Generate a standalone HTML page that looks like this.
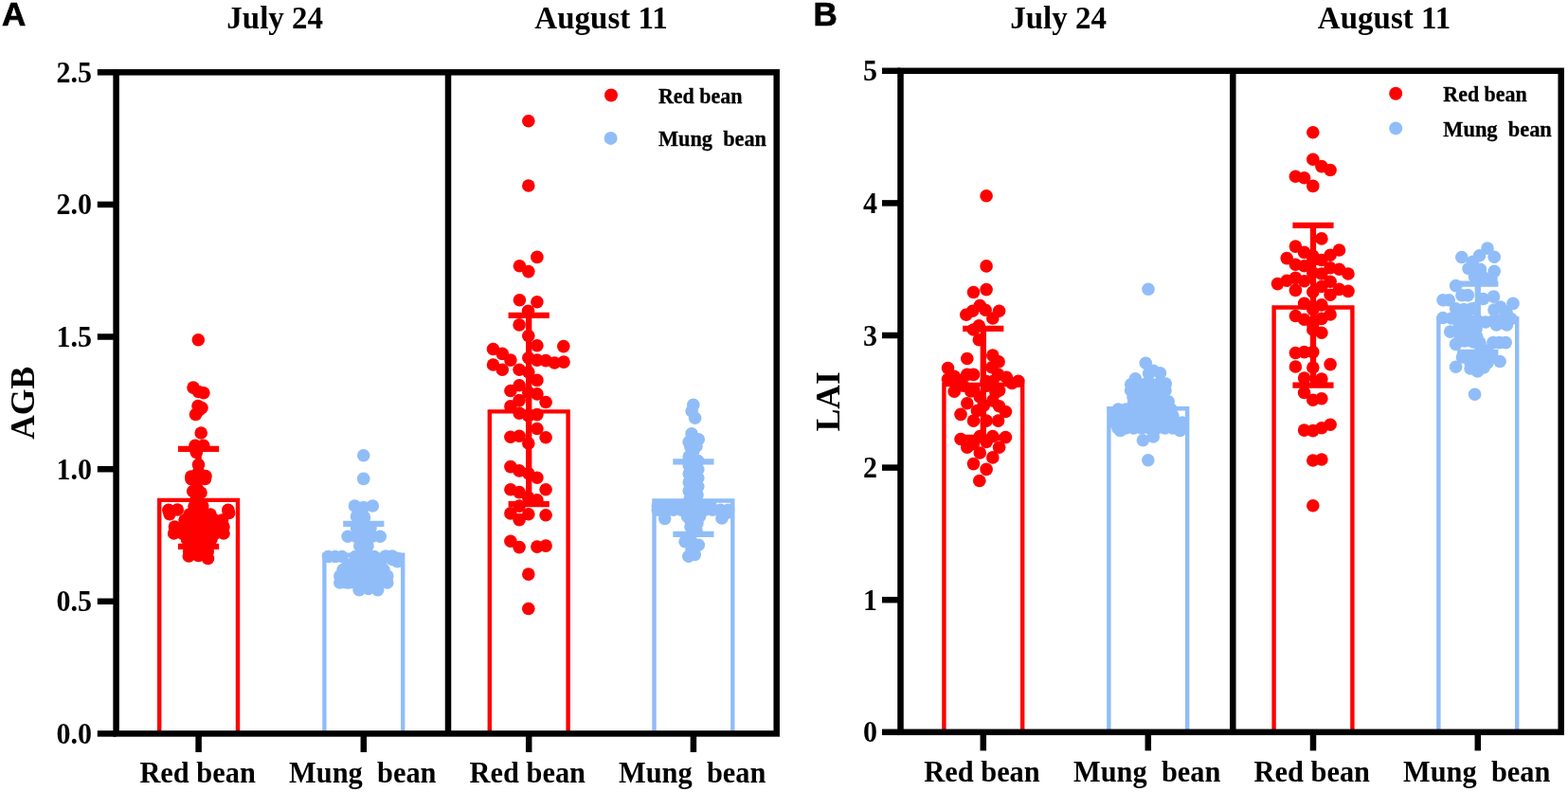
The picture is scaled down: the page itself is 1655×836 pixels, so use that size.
<!DOCTYPE html>
<html lang="en">
<head>
<meta charset="utf-8">
<title>AGB and LAI of red bean and mung bean</title>
<style>
html,body{margin:0;padding:0;background:#fff;}
body{width:1655px;height:836px;overflow:hidden;}
svg{display:block;}
text{font-family:"Liberation Serif","Times New Roman",Times,serif;font-weight:bold;fill:#000;white-space:pre;}
.t30{font-size:30px;}
.t33{font-size:33px;}
.t30x{font-size:30.4px;}
.t36{font-size:35.5px;}
.t24{font-size:24px;stroke:#000;stroke-width:0.3px;}
.pl{font-family:"Liberation Sans",Arial,Helvetica,sans-serif;font-weight:bold;font-size:35px;stroke:#000;stroke-width:0.7px;}
</style>
</head>
<body>
<svg width="1655" height="836" viewBox="0 0 1655 836">
<rect width="1655" height="836" fill="#fff"/>
<text x="2.0" y="27.0" class="pl">A</text>
<text x="858.6" y="26.8" class="pl">B</text>
<g id="panelA">
<path d="M168.2 774.4 V527.9 H251.0 V774.4" fill="none" stroke="#fe0000" stroke-width="4.4"/>
<path d="M209.6 473.8 V576.8 M188.0 473.8 h43.2 M188.0 576.8 h43.2" fill="none" stroke="#fe0000" stroke-width="6.3"/>
<path d="M342.4 774.4 V585.7 H425.2 V774.4" fill="none" stroke="#90bdf8" stroke-width="4.4"/>
<path d="M383.8 552.9 V618.0 M362.2 552.9 h43.2 M362.2 618.0 h43.2" fill="none" stroke="#90bdf8" stroke-width="6.3"/>
<path d="M516.8 774.4 V434.4 H599.6 V774.4" fill="none" stroke="#fe0000" stroke-width="4.4"/>
<path d="M558.2 332.8 V532.2 M536.6 332.8 h43.2 M536.6 532.2 h43.2" fill="none" stroke="#fe0000" stroke-width="6.3"/>
<path d="M690.5 774.4 V528.5 H773.3 V774.4" fill="none" stroke="#90bdf8" stroke-width="4.4"/>
<path d="M731.9 487.3 V563.8 M710.3 487.3 h43.2 M710.3 563.8 h43.2" fill="none" stroke="#90bdf8" stroke-width="6.3"/>
<g fill="#fe0000"><circle cx="209.3" cy="358.8" r="6.8"/><circle cx="204.0" cy="409.1" r="6.8"/><circle cx="209.5" cy="413.5" r="6.8"/><circle cx="214.9" cy="414.7" r="6.8"/><circle cx="209.0" cy="428.5" r="6.8"/><circle cx="213.0" cy="430.5" r="6.8"/><circle cx="210.0" cy="433.0" r="6.8"/><circle cx="206.5" cy="437.5" r="6.8"/><circle cx="212.2" cy="457.0" r="6.8"/><circle cx="206.0" cy="470.2" r="6.8"/><circle cx="214.7" cy="470.2" r="6.8"/><circle cx="207.3" cy="477.5" r="6.8"/><circle cx="209.5" cy="490.6" r="6.8"/><circle cx="209.5" cy="498.5" r="6.8"/><circle cx="217.0" cy="502.5" r="6.8"/><circle cx="201.8" cy="503.0" r="6.8"/><circle cx="209.5" cy="505.0" r="6.8"/><circle cx="216.4" cy="505.5" r="6.8"/><circle cx="202.0" cy="505.7" r="6.8"/><circle cx="208.0" cy="515.0" r="6.8"/><circle cx="203.7" cy="518.5" r="6.8"/><circle cx="212.0" cy="520.0" r="6.8"/><circle cx="207.0" cy="527.0" r="6.8"/><circle cx="213.8" cy="534.0" r="6.8"/><circle cx="205.0" cy="534.5" r="6.8"/><circle cx="187.3" cy="538.0" r="6.8"/><circle cx="177.9" cy="538.4" r="6.8"/><circle cx="240.8" cy="538.4" r="6.8"/><circle cx="241.6" cy="541.5" r="6.8"/><circle cx="179.0" cy="542.6" r="6.8"/><circle cx="200.0" cy="543.0" r="6.8"/><circle cx="207.3" cy="543.0" r="6.8"/><circle cx="214.7" cy="543.0" r="6.8"/><circle cx="222.0" cy="543.0" r="6.8"/><circle cx="195.0" cy="549.0" r="6.8"/><circle cx="202.9" cy="549.0" r="6.8"/><circle cx="210.8" cy="549.0" r="6.8"/><circle cx="218.7" cy="549.0" r="6.8"/><circle cx="226.6" cy="549.0" r="6.8"/><circle cx="234.5" cy="549.0" r="6.8"/><circle cx="184.4" cy="556.0" r="6.8"/><circle cx="193.0" cy="556.0" r="6.8"/><circle cx="201.6" cy="556.0" r="6.8"/><circle cx="210.2" cy="556.0" r="6.8"/><circle cx="218.8" cy="556.0" r="6.8"/><circle cx="227.4" cy="556.0" r="6.8"/><circle cx="236.0" cy="556.0" r="6.8"/><circle cx="183.6" cy="563.0" r="6.8"/><circle cx="192.3" cy="563.0" r="6.8"/><circle cx="201.1" cy="563.0" r="6.8"/><circle cx="209.8" cy="563.0" r="6.8"/><circle cx="218.5" cy="563.0" r="6.8"/><circle cx="227.3" cy="563.0" r="6.8"/><circle cx="236.0" cy="563.0" r="6.8"/><circle cx="197.4" cy="569.0" r="6.8"/><circle cx="205.9" cy="569.0" r="6.8"/><circle cx="214.5" cy="569.0" r="6.8"/><circle cx="223.0" cy="569.0" r="6.8"/><circle cx="199.5" cy="575.0" r="6.8"/><circle cx="206.3" cy="575.0" r="6.8"/><circle cx="213.2" cy="575.0" r="6.8"/><circle cx="220.0" cy="575.0" r="6.8"/><circle cx="199.6" cy="582.0" r="6.8"/><circle cx="206.2" cy="582.0" r="6.8"/><circle cx="212.7" cy="582.0" r="6.8"/><circle cx="219.3" cy="582.0" r="6.8"/><circle cx="209.5" cy="586.5" r="6.8"/><circle cx="199.3" cy="587.0" r="6.8"/><circle cx="219.5" cy="589.5" r="6.8"/></g>
<g fill="#90bdf8"><circle cx="383.7" cy="480.8" r="6.8"/><circle cx="383.7" cy="505.4" r="6.8"/><circle cx="374.4" cy="534.0" r="6.8"/><circle cx="393.3" cy="534.0" r="6.8"/><circle cx="383.7" cy="535.5" r="6.8"/><circle cx="376.5" cy="545.0" r="6.8"/><circle cx="384.5" cy="546.0" r="6.8"/><circle cx="381.0" cy="549.0" r="6.8"/><circle cx="376.5" cy="557.0" r="6.8"/><circle cx="383.8" cy="557.0" r="6.8"/><circle cx="391.0" cy="557.0" r="6.8"/><circle cx="367.1" cy="566.3" r="6.8"/><circle cx="375.6" cy="566.3" r="6.8"/><circle cx="384.1" cy="566.3" r="6.8"/><circle cx="392.7" cy="566.3" r="6.8"/><circle cx="401.2" cy="566.3" r="6.8"/><circle cx="379.9" cy="576.4" r="6.8"/><circle cx="387.9" cy="576.4" r="6.8"/><circle cx="407.0" cy="587.0" r="6.8"/><circle cx="414.0" cy="587.0" r="6.8"/><circle cx="346.5" cy="587.5" r="6.8"/><circle cx="353.8" cy="587.5" r="6.8"/><circle cx="361.0" cy="587.5" r="6.8"/><circle cx="375.0" cy="587.5" r="6.8"/><circle cx="381.7" cy="587.5" r="6.8"/><circle cx="388.3" cy="587.5" r="6.8"/><circle cx="395.0" cy="587.5" r="6.8"/><circle cx="420.0" cy="589.5" r="6.8"/><circle cx="414.0" cy="590.5" r="6.8"/><circle cx="419.5" cy="592.8" r="6.8"/><circle cx="367.0" cy="596.0" r="6.8"/><circle cx="375.8" cy="596.0" r="6.8"/><circle cx="384.5" cy="596.0" r="6.8"/><circle cx="393.2" cy="596.0" r="6.8"/><circle cx="402.0" cy="596.0" r="6.8"/><circle cx="362.0" cy="601.5" r="6.8"/><circle cx="370.6" cy="601.5" r="6.8"/><circle cx="379.2" cy="601.5" r="6.8"/><circle cx="387.8" cy="601.5" r="6.8"/><circle cx="396.4" cy="601.5" r="6.8"/><circle cx="405.0" cy="601.5" r="6.8"/><circle cx="358.8" cy="608.0" r="6.8"/><circle cx="367.1" cy="608.0" r="6.8"/><circle cx="375.5" cy="608.0" r="6.8"/><circle cx="383.8" cy="608.0" r="6.8"/><circle cx="392.1" cy="608.0" r="6.8"/><circle cx="400.5" cy="608.0" r="6.8"/><circle cx="408.8" cy="608.0" r="6.8"/><circle cx="358.8" cy="615.0" r="6.8"/><circle cx="367.1" cy="615.0" r="6.8"/><circle cx="375.5" cy="615.0" r="6.8"/><circle cx="383.8" cy="615.0" r="6.8"/><circle cx="392.1" cy="615.0" r="6.8"/><circle cx="400.5" cy="615.0" r="6.8"/><circle cx="408.8" cy="615.0" r="6.8"/><circle cx="388.9" cy="621.5" r="6.8"/><circle cx="379.1" cy="622.8" r="6.8"/><circle cx="398.7" cy="622.8" r="6.8"/></g>
<g fill="#fe0000"><circle cx="557.8" cy="127.8" r="6.8"/><circle cx="557.8" cy="196.0" r="6.8"/><circle cx="566.9" cy="271.4" r="6.8"/><circle cx="548.4" cy="280.8" r="6.8"/><circle cx="557.8" cy="286.6" r="6.8"/><circle cx="548.4" cy="316.8" r="6.8"/><circle cx="566.9" cy="318.8" r="6.8"/><circle cx="557.5" cy="328.2" r="6.8"/><circle cx="548.1" cy="342.9" r="6.8"/><circle cx="557.8" cy="354.5" r="6.8"/><circle cx="566.9" cy="364.7" r="6.8"/><circle cx="594.8" cy="365.6" r="6.8"/><circle cx="520.5" cy="368.5" r="6.8"/><circle cx="530.2" cy="373.4" r="6.8"/><circle cx="557.8" cy="377.7" r="6.8"/><circle cx="538.9" cy="380.1" r="6.8"/><circle cx="566.9" cy="380.1" r="6.8"/><circle cx="576.1" cy="380.6" r="6.8"/><circle cx="595.0" cy="382.1" r="6.8"/><circle cx="585.3" cy="383.0" r="6.8"/><circle cx="520.5" cy="385.0" r="6.8"/><circle cx="530.2" cy="390.3" r="6.8"/><circle cx="548.1" cy="390.3" r="6.8"/><circle cx="557.8" cy="392.7" r="6.8"/><circle cx="566.9" cy="401.4" r="6.8"/><circle cx="548.1" cy="406.7" r="6.8"/><circle cx="538.9" cy="412.5" r="6.8"/><circle cx="557.8" cy="414.4" r="6.8"/><circle cx="566.9" cy="415.9" r="6.8"/><circle cx="548.1" cy="422.6" r="6.8"/><circle cx="576.1" cy="424.5" r="6.8"/><circle cx="538.9" cy="428.9" r="6.8"/><circle cx="548.1" cy="436.1" r="6.8"/><circle cx="566.9" cy="437.6" r="6.8"/><circle cx="557.8" cy="439.0" r="6.8"/><circle cx="566.9" cy="452.5" r="6.8"/><circle cx="548.1" cy="460.3" r="6.8"/><circle cx="538.9" cy="461.2" r="6.8"/><circle cx="576.1" cy="461.7" r="6.8"/><circle cx="557.8" cy="468.0" r="6.8"/><circle cx="538.9" cy="492.6" r="6.8"/><circle cx="548.1" cy="496.9" r="6.8"/><circle cx="557.8" cy="499.8" r="6.8"/><circle cx="566.9" cy="504.2" r="6.8"/><circle cx="538.9" cy="516.7" r="6.8"/><circle cx="576.1" cy="516.7" r="6.8"/><circle cx="548.1" cy="519.6" r="6.8"/><circle cx="557.8" cy="525.4" r="6.8"/><circle cx="566.9" cy="527.9" r="6.8"/><circle cx="548.1" cy="534.1" r="6.8"/><circle cx="538.9" cy="541.9" r="6.8"/><circle cx="557.8" cy="542.8" r="6.8"/><circle cx="576.1" cy="543.8" r="6.8"/><circle cx="548.1" cy="548.6" r="6.8"/><circle cx="538.9" cy="571.3" r="6.8"/><circle cx="576.1" cy="576.1" r="6.8"/><circle cx="566.9" cy="577.1" r="6.8"/><circle cx="548.1" cy="577.6" r="6.8"/><circle cx="557.8" cy="606.1" r="6.8"/><circle cx="557.8" cy="642.5" r="6.8"/></g>
<g fill="#90bdf8"><circle cx="731.8" cy="427.4" r="6.8"/><circle cx="730.2" cy="433.9" r="6.8"/><circle cx="733.6" cy="441.2" r="6.8"/><circle cx="730.0" cy="457.9" r="6.8"/><circle cx="737.3" cy="463.7" r="6.8"/><circle cx="727.1" cy="466.6" r="6.8"/><circle cx="735.0" cy="471.0" r="6.8"/><circle cx="729.0" cy="472.0" r="6.8"/><circle cx="731.8" cy="475.9" r="6.8"/><circle cx="727.2" cy="482.0" r="6.8"/><circle cx="736.8" cy="486.5" r="6.8"/><circle cx="727.2" cy="491.0" r="6.8"/><circle cx="736.8" cy="495.5" r="6.8"/><circle cx="727.2" cy="500.0" r="6.8"/><circle cx="736.8" cy="504.5" r="6.8"/><circle cx="727.2" cy="509.0" r="6.8"/><circle cx="736.8" cy="513.5" r="6.8"/><circle cx="727.2" cy="518.0" r="6.8"/><circle cx="736.0" cy="522.5" r="6.8"/><circle cx="728.0" cy="527.0" r="6.8"/><circle cx="694.3" cy="534.0" r="6.8"/><circle cx="702.3" cy="534.0" r="6.8"/><circle cx="710.2" cy="534.0" r="6.8"/><circle cx="718.2" cy="534.0" r="6.8"/><circle cx="726.1" cy="534.0" r="6.8"/><circle cx="734.1" cy="534.0" r="6.8"/><circle cx="742.0" cy="534.0" r="6.8"/><circle cx="750.0" cy="534.0" r="6.8"/><circle cx="694.3" cy="538.2" r="6.8"/><circle cx="702.6" cy="538.2" r="6.8"/><circle cx="710.8" cy="538.2" r="6.8"/><circle cx="719.1" cy="538.2" r="6.8"/><circle cx="727.3" cy="538.2" r="6.8"/><circle cx="735.6" cy="538.2" r="6.8"/><circle cx="743.8" cy="538.2" r="6.8"/><circle cx="752.1" cy="538.2" r="6.8"/><circle cx="760.3" cy="538.2" r="6.8"/><circle cx="768.6" cy="538.2" r="6.8"/><circle cx="768.4" cy="541.0" r="6.8"/><circle cx="764.0" cy="541.9" r="6.8"/><circle cx="725.5" cy="545.0" r="6.8"/><circle cx="732.0" cy="545.0" r="6.8"/><circle cx="738.5" cy="545.0" r="6.8"/><circle cx="761.9" cy="547.0" r="6.8"/><circle cx="701.7" cy="547.5" r="6.8"/><circle cx="728.0" cy="548.0" r="6.8"/><circle cx="736.0" cy="552.0" r="6.8"/><circle cx="729.0" cy="556.0" r="6.8"/><circle cx="735.0" cy="560.0" r="6.8"/><circle cx="723.1" cy="571.7" r="6.8"/><circle cx="730.0" cy="572.0" r="6.8"/><circle cx="737.3" cy="575.3" r="6.8"/><circle cx="730.0" cy="580.0" r="6.8"/><circle cx="733.3" cy="585.5" r="6.8"/><circle cx="726.8" cy="587.3" r="6.8"/></g>
<rect x="122.6" y="76.3" width="697.1" height="698.1" fill="none" stroke="#000" stroke-width="6.5"/>
<line x1="473.0" y1="76.3" x2="473.0" y2="774.4" stroke="#000" stroke-width="6.5"/>
<line x1="102.8" y1="774.4" x2="122.6" y2="774.4" stroke="#000" stroke-width="6.5"/>
<text transform="translate(97.0 784.9) scale(1 1.07)" text-anchor="end" class="t30">0.0</text>
<line x1="102.8" y1="634.8" x2="122.6" y2="634.8" stroke="#000" stroke-width="6.5"/>
<text transform="translate(97.0 645.3) scale(1 1.07)" text-anchor="end" class="t30">0.5</text>
<line x1="102.8" y1="495.2" x2="122.6" y2="495.2" stroke="#000" stroke-width="6.5"/>
<text transform="translate(97.0 505.7) scale(1 1.07)" text-anchor="end" class="t30">1.0</text>
<line x1="102.8" y1="355.5" x2="122.6" y2="355.5" stroke="#000" stroke-width="6.5"/>
<text transform="translate(97.0 366.0) scale(1 1.07)" text-anchor="end" class="t30">1.5</text>
<line x1="102.8" y1="215.9" x2="122.6" y2="215.9" stroke="#000" stroke-width="6.5"/>
<text transform="translate(97.0 226.4) scale(1 1.07)" text-anchor="end" class="t30">2.0</text>
<line x1="102.8" y1="76.3" x2="122.6" y2="76.3" stroke="#000" stroke-width="6.5"/>
<text transform="translate(97.0 86.8) scale(1 1.07)" text-anchor="end" class="t30">2.5</text>
<line x1="209.6" y1="774.4" x2="209.6" y2="794.0" stroke="#000" stroke-width="6.5"/>
<text transform="translate(208.6 826.4) scale(1 1.05)" text-anchor="middle" class="t30x" xml:space="preserve">Red bean</text>
<line x1="383.8" y1="774.4" x2="383.8" y2="794.0" stroke="#000" stroke-width="6.5"/>
<text transform="translate(382.8 826.4) scale(1 1.05)" text-anchor="middle" class="t30x" xml:space="preserve">Mung  bean</text>
<line x1="558.2" y1="774.4" x2="558.2" y2="794.0" stroke="#000" stroke-width="6.5"/>
<text transform="translate(556.8 826.4) scale(1 1.05)" text-anchor="middle" class="t30x" xml:space="preserve">Red bean</text>
<line x1="731.9" y1="774.4" x2="731.9" y2="794.0" stroke="#000" stroke-width="6.5"/>
<text transform="translate(730.7 826.4) scale(1 1.05)" text-anchor="middle" class="t30x" xml:space="preserve">Mung  bean</text>
<text transform="translate(35.5 425.3) rotate(-90)" text-anchor="middle" class="t36">AGB</text>
<text transform="translate(290.2 30.3) scale(1 1.05)" text-anchor="middle" class="t33">July 24</text>
<text transform="translate(634.5 30.3) scale(1 1.05)" text-anchor="middle" class="t33">August 11</text>
<circle cx="645.0" cy="100.5" r="7" fill="#fe0000"/>
<circle cx="644.6" cy="145.9" r="7" fill="#90bdf8"/>
<text x="695.0" y="108.8" class="t24" textLength="88.5" lengthAdjust="spacingAndGlyphs">Red bean</text>
<text x="695.0" y="154.0" class="t24" textLength="114.0" lengthAdjust="spacingAndGlyphs" xml:space="preserve">Mung  bean</text>
</g>
<g id="panelB">
<path d="M996.4 772.8 V406.0 H1079.2 V772.8" fill="none" stroke="#fe0000" stroke-width="4.4"/>
<path d="M1037.8 346.8 V462.0 M1016.2 346.8 h43.2 M1016.2 462.0 h43.2" fill="none" stroke="#fe0000" stroke-width="6.3"/>
<path d="M1170.4 772.8 V431.2 H1253.2 V772.8" fill="none" stroke="#90bdf8" stroke-width="4.4"/>
<path d="M1211.8 410.0 V452.0 M1190.2 410.0 h43.2 M1190.2 452.0 h43.2" fill="none" stroke="#90bdf8" stroke-width="6.3"/>
<path d="M1344.6 772.8 V324.5 H1427.4 V772.8" fill="none" stroke="#fe0000" stroke-width="4.4"/>
<path d="M1386.0 237.9 V406.6 M1364.4 237.9 h43.2 M1364.4 406.6 h43.2" fill="none" stroke="#fe0000" stroke-width="6.3"/>
<path d="M1518.4 772.8 V336.3 H1601.2 V772.8" fill="none" stroke="#90bdf8" stroke-width="4.4"/>
<path d="M1559.8 299.7 V372.0 M1538.2 299.7 h43.2 M1538.2 372.0 h43.2" fill="none" stroke="#90bdf8" stroke-width="6.3"/>
<g fill="#fe0000"><circle cx="1041.1" cy="206.7" r="6.8"/><circle cx="1041.1" cy="280.9" r="6.8"/><circle cx="1041.1" cy="305.6" r="6.8"/><circle cx="1027.5" cy="308.5" r="6.8"/><circle cx="1034.3" cy="322.5" r="6.8"/><circle cx="1040.1" cy="327.3" r="6.8"/><circle cx="1026.6" cy="328.3" r="6.8"/><circle cx="1054.6" cy="328.3" r="6.8"/><circle cx="1019.8" cy="332.2" r="6.8"/><circle cx="1047.8" cy="336.0" r="6.8"/><circle cx="1033.3" cy="343.7" r="6.8"/><circle cx="1027.5" cy="348.0" r="6.8"/><circle cx="1033.3" cy="358.7" r="6.8"/><circle cx="1047.8" cy="375.1" r="6.8"/><circle cx="1020.8" cy="378.5" r="6.8"/><circle cx="1054.1" cy="381.9" r="6.8"/><circle cx="1046.9" cy="387.7" r="6.8"/><circle cx="1000.5" cy="388.6" r="6.8"/><circle cx="1020.8" cy="395.4" r="6.8"/><circle cx="1027.5" cy="395.4" r="6.8"/><circle cx="1053.6" cy="395.4" r="6.8"/><circle cx="1007.2" cy="397.3" r="6.8"/><circle cx="1062.3" cy="398.3" r="6.8"/><circle cx="1000.5" cy="400.2" r="6.8"/><circle cx="1014.0" cy="401.6" r="6.8"/><circle cx="1074.9" cy="402.2" r="6.8"/><circle cx="1041.1" cy="402.6" r="6.8"/><circle cx="1047.8" cy="402.6" r="6.8"/><circle cx="1068.1" cy="404.5" r="6.8"/><circle cx="1016.8" cy="407.3" r="6.8"/><circle cx="1041.8" cy="407.3" r="6.8"/><circle cx="1027.5" cy="411.3" r="6.8"/><circle cx="1054.6" cy="412.2" r="6.8"/><circle cx="1024.8" cy="413.0" r="6.8"/><circle cx="1007.2" cy="413.2" r="6.8"/><circle cx="1050.9" cy="414.1" r="6.8"/><circle cx="1034.3" cy="419.0" r="6.8"/><circle cx="1047.8" cy="422.9" r="6.8"/><circle cx="1020.8" cy="425.8" r="6.8"/><circle cx="1038.2" cy="428.2" r="6.8"/><circle cx="1054.6" cy="428.7" r="6.8"/><circle cx="1031.4" cy="433.5" r="6.8"/><circle cx="1061.4" cy="434.5" r="6.8"/><circle cx="1014.0" cy="437.4" r="6.8"/><circle cx="1027.5" cy="444.1" r="6.8"/><circle cx="1041.1" cy="444.1" r="6.8"/><circle cx="1053.6" cy="444.1" r="6.8"/><circle cx="1034.3" cy="460.6" r="6.8"/><circle cx="1047.8" cy="460.6" r="6.8"/><circle cx="1061.4" cy="461.6" r="6.8"/><circle cx="1014.0" cy="463.5" r="6.8"/><circle cx="1041.1" cy="466.4" r="6.8"/><circle cx="1027.5" cy="467.4" r="6.8"/><circle cx="1027.0" cy="468.6" r="6.8"/><circle cx="1020.8" cy="472.2" r="6.8"/><circle cx="1054.6" cy="472.2" r="6.8"/><circle cx="1034.3" cy="478.0" r="6.8"/><circle cx="1047.8" cy="482.9" r="6.8"/><circle cx="1027.5" cy="489.6" r="6.8"/><circle cx="1041.1" cy="495.4" r="6.8"/><circle cx="1033.8" cy="507.5" r="6.8"/></g>
<g fill="#90bdf8"><circle cx="1212.0" cy="305.2" r="6.8"/><circle cx="1209.3" cy="383.2" r="6.8"/><circle cx="1217.3" cy="391.2" r="6.8"/><circle cx="1224.5" cy="393.7" r="6.8"/><circle cx="1212.6" cy="394.1" r="6.8"/><circle cx="1198.4" cy="399.9" r="6.8"/><circle cx="1230.3" cy="405.0" r="6.8"/><circle cx="1202.0" cy="405.5" r="6.8"/><circle cx="1208.7" cy="405.5" r="6.8"/><circle cx="1215.3" cy="405.5" r="6.8"/><circle cx="1222.0" cy="405.5" r="6.8"/><circle cx="1193.7" cy="405.7" r="6.8"/><circle cx="1193.6" cy="412.0" r="6.8"/><circle cx="1202.7" cy="412.0" r="6.8"/><circle cx="1211.8" cy="412.0" r="6.8"/><circle cx="1220.9" cy="412.0" r="6.8"/><circle cx="1230.0" cy="412.0" r="6.8"/><circle cx="1196.0" cy="419.0" r="6.8"/><circle cx="1203.8" cy="419.0" r="6.8"/><circle cx="1211.5" cy="419.0" r="6.8"/><circle cx="1219.2" cy="419.0" r="6.8"/><circle cx="1227.0" cy="419.0" r="6.8"/><circle cx="1233.2" cy="423.9" r="6.8"/><circle cx="1196.5" cy="425.0" r="6.8"/><circle cx="1203.9" cy="425.0" r="6.8"/><circle cx="1211.2" cy="425.0" r="6.8"/><circle cx="1218.6" cy="425.0" r="6.8"/><circle cx="1226.0" cy="425.0" r="6.8"/><circle cx="1180.3" cy="432.0" r="6.8"/><circle cx="1188.3" cy="432.0" r="6.8"/><circle cx="1196.2" cy="432.0" r="6.8"/><circle cx="1204.2" cy="432.0" r="6.8"/><circle cx="1212.1" cy="432.0" r="6.8"/><circle cx="1220.1" cy="432.0" r="6.8"/><circle cx="1228.0" cy="432.0" r="6.8"/><circle cx="1236.0" cy="432.0" r="6.8"/><circle cx="1176.5" cy="439.0" r="6.8"/><circle cx="1185.3" cy="439.0" r="6.8"/><circle cx="1194.1" cy="439.0" r="6.8"/><circle cx="1202.9" cy="439.0" r="6.8"/><circle cx="1211.6" cy="439.0" r="6.8"/><circle cx="1220.4" cy="439.0" r="6.8"/><circle cx="1229.2" cy="439.0" r="6.8"/><circle cx="1238.0" cy="439.0" r="6.8"/><circle cx="1176.5" cy="446.0" r="6.8"/><circle cx="1185.4" cy="446.0" r="6.8"/><circle cx="1194.4" cy="446.0" r="6.8"/><circle cx="1203.3" cy="446.0" r="6.8"/><circle cx="1212.2" cy="446.0" r="6.8"/><circle cx="1221.2" cy="446.0" r="6.8"/><circle cx="1230.1" cy="446.0" r="6.8"/><circle cx="1239.1" cy="446.0" r="6.8"/><circle cx="1248.0" cy="446.0" r="6.8"/><circle cx="1180.0" cy="452.0" r="6.8"/><circle cx="1188.2" cy="452.0" r="6.8"/><circle cx="1196.5" cy="452.0" r="6.8"/><circle cx="1204.8" cy="452.0" r="6.8"/><circle cx="1213.0" cy="452.0" r="6.8"/><circle cx="1221.2" cy="452.0" r="6.8"/><circle cx="1229.5" cy="452.0" r="6.8"/><circle cx="1237.8" cy="452.0" r="6.8"/><circle cx="1246.0" cy="452.0" r="6.8"/><circle cx="1182.5" cy="454.5" r="6.8"/><circle cx="1245.5" cy="454.5" r="6.8"/><circle cx="1217.3" cy="461.0" r="6.8"/><circle cx="1206.4" cy="464.7" r="6.8"/><circle cx="1211.8" cy="485.7" r="6.8"/></g>
<g fill="#fe0000"><circle cx="1385.8" cy="139.8" r="6.8"/><circle cx="1385.8" cy="168.3" r="6.8"/><circle cx="1394.9" cy="175.6" r="6.8"/><circle cx="1404.1" cy="179.5" r="6.8"/><circle cx="1367.4" cy="186.2" r="6.8"/><circle cx="1376.6" cy="187.7" r="6.8"/><circle cx="1385.8" cy="196.4" r="6.8"/><circle cx="1394.9" cy="251.9" r="6.8"/><circle cx="1367.4" cy="260.1" r="6.8"/><circle cx="1413.5" cy="264.0" r="6.8"/><circle cx="1376.6" cy="266.4" r="6.8"/><circle cx="1404.1" cy="269.3" r="6.8"/><circle cx="1385.8" cy="270.2" r="6.8"/><circle cx="1358.2" cy="272.6" r="6.8"/><circle cx="1385.8" cy="274.5" r="6.8"/><circle cx="1394.9" cy="274.5" r="6.8"/><circle cx="1367.4" cy="279.3" r="6.8"/><circle cx="1376.6" cy="280.8" r="6.8"/><circle cx="1404.1" cy="282.7" r="6.8"/><circle cx="1413.5" cy="284.2" r="6.8"/><circle cx="1385.8" cy="288.0" r="6.8"/><circle cx="1394.9" cy="289.0" r="6.8"/><circle cx="1423.0" cy="289.0" r="6.8"/><circle cx="1367.4" cy="293.4" r="6.8"/><circle cx="1358.2" cy="296.3" r="6.8"/><circle cx="1376.6" cy="296.7" r="6.8"/><circle cx="1404.1" cy="297.2" r="6.8"/><circle cx="1348.5" cy="299.6" r="6.8"/><circle cx="1394.9" cy="302.5" r="6.8"/><circle cx="1413.5" cy="305.4" r="6.8"/><circle cx="1367.4" cy="306.4" r="6.8"/><circle cx="1423.0" cy="307.4" r="6.8"/><circle cx="1385.8" cy="308.3" r="6.8"/><circle cx="1404.1" cy="311.2" r="6.8"/><circle cx="1376.6" cy="320.4" r="6.8"/><circle cx="1394.9" cy="321.9" r="6.8"/><circle cx="1385.8" cy="326.7" r="6.8"/><circle cx="1404.1" cy="332.0" r="6.8"/><circle cx="1367.4" cy="333.5" r="6.8"/><circle cx="1394.9" cy="336.4" r="6.8"/><circle cx="1376.6" cy="337.3" r="6.8"/><circle cx="1385.8" cy="342.6" r="6.8"/><circle cx="1385.8" cy="347.9" r="6.8"/><circle cx="1394.9" cy="351.3" r="6.8"/><circle cx="1376.6" cy="371.6" r="6.8"/><circle cx="1385.8" cy="371.6" r="6.8"/><circle cx="1367.4" cy="372.5" r="6.8"/><circle cx="1404.1" cy="384.6" r="6.8"/><circle cx="1367.4" cy="387.0" r="6.8"/><circle cx="1385.8" cy="388.0" r="6.8"/><circle cx="1376.6" cy="399.1" r="6.8"/><circle cx="1394.9" cy="400.1" r="6.8"/><circle cx="1376.6" cy="414.5" r="6.8"/><circle cx="1394.9" cy="420.8" r="6.8"/><circle cx="1385.8" cy="422.2" r="6.8"/><circle cx="1404.1" cy="448.3" r="6.8"/><circle cx="1394.9" cy="451.7" r="6.8"/><circle cx="1376.6" cy="454.1" r="6.8"/><circle cx="1385.8" cy="454.6" r="6.8"/><circle cx="1394.9" cy="485.0" r="6.8"/><circle cx="1385.8" cy="486.0" r="6.8"/><circle cx="1385.8" cy="533.8" r="6.8"/></g>
<g fill="#90bdf8"><circle cx="1570.0" cy="262.1" r="6.8"/><circle cx="1561.6" cy="269.7" r="6.8"/><circle cx="1577.2" cy="271.2" r="6.8"/><circle cx="1542.8" cy="271.5" r="6.8"/><circle cx="1554.4" cy="276.3" r="6.8"/><circle cx="1550.0" cy="283.5" r="6.8"/><circle cx="1562.4" cy="284.2" r="6.8"/><circle cx="1577.2" cy="286.4" r="6.8"/><circle cx="1556.5" cy="292.0" r="6.8"/><circle cx="1566.0" cy="293.0" r="6.8"/><circle cx="1574.0" cy="294.0" r="6.8"/><circle cx="1536.6" cy="301.6" r="6.8"/><circle cx="1549.3" cy="311.6" r="6.8"/><circle cx="1542.9" cy="311.8" r="6.8"/><circle cx="1576.5" cy="313.1" r="6.8"/><circle cx="1565.6" cy="315.5" r="6.8"/><circle cx="1523.0" cy="316.8" r="6.8"/><circle cx="1529.3" cy="316.8" r="6.8"/><circle cx="1597.0" cy="320.4" r="6.8"/><circle cx="1583.7" cy="324.0" r="6.8"/><circle cx="1556.5" cy="325.5" r="6.8"/><circle cx="1536.6" cy="325.8" r="6.8"/><circle cx="1553.0" cy="326.0" r="6.8"/><circle cx="1545.0" cy="326.5" r="6.8"/><circle cx="1577.0" cy="327.0" r="6.8"/><circle cx="1590.0" cy="329.0" r="6.8"/><circle cx="1523.0" cy="335.5" r="6.8"/><circle cx="1532.0" cy="336.0" r="6.8"/><circle cx="1595.0" cy="336.5" r="6.8"/><circle cx="1541.0" cy="337.0" r="6.8"/><circle cx="1586.0" cy="337.0" r="6.8"/><circle cx="1550.0" cy="337.5" r="6.8"/><circle cx="1559.0" cy="338.0" r="6.8"/><circle cx="1577.0" cy="338.0" r="6.8"/><circle cx="1568.0" cy="340.0" r="6.8"/><circle cx="1579.5" cy="342.9" r="6.8"/><circle cx="1590.4" cy="342.9" r="6.8"/><circle cx="1540.0" cy="345.0" r="6.8"/><circle cx="1549.0" cy="346.0" r="6.8"/><circle cx="1558.0" cy="347.0" r="6.8"/><circle cx="1530.7" cy="350.1" r="6.8"/><circle cx="1541.0" cy="354.0" r="6.8"/><circle cx="1550.0" cy="355.0" r="6.8"/><circle cx="1559.0" cy="356.0" r="6.8"/><circle cx="1546.0" cy="360.0" r="6.8"/><circle cx="1555.0" cy="361.0" r="6.8"/><circle cx="1575.9" cy="361.6" r="6.8"/><circle cx="1582.5" cy="361.6" r="6.8"/><circle cx="1589.2" cy="361.6" r="6.8"/><circle cx="1562.0" cy="362.0" r="6.8"/><circle cx="1536.6" cy="363.4" r="6.8"/><circle cx="1563.0" cy="369.0" r="6.8"/><circle cx="1570.0" cy="370.0" r="6.8"/><circle cx="1561.0" cy="375.5" r="6.8"/><circle cx="1552.0" cy="376.0" r="6.8"/><circle cx="1570.0" cy="376.0" r="6.8"/><circle cx="1543.4" cy="377.0" r="6.8"/><circle cx="1574.0" cy="377.0" r="6.8"/><circle cx="1583.1" cy="381.5" r="6.8"/><circle cx="1552.0" cy="383.0" r="6.8"/><circle cx="1570.0" cy="383.0" r="6.8"/><circle cx="1561.0" cy="384.0" r="6.8"/><circle cx="1536.6" cy="387.2" r="6.8"/><circle cx="1566.0" cy="388.0" r="6.8"/><circle cx="1552.0" cy="389.0" r="6.8"/><circle cx="1559.5" cy="392.0" r="6.8"/><circle cx="1556.6" cy="416.3" r="6.8"/></g>
<rect x="950.5" y="74.8" width="697.2" height="698.0" fill="none" stroke="#000" stroke-width="6.5"/>
<line x1="1301.3" y1="74.8" x2="1301.3" y2="772.8" stroke="#000" stroke-width="6.5"/>
<line x1="931.0" y1="772.8" x2="950.5" y2="772.8" stroke="#000" stroke-width="6.5"/>
<text transform="translate(926.0 783.3) scale(1 1.07)" text-anchor="end" class="t30">0</text>
<line x1="931.0" y1="633.2" x2="950.5" y2="633.2" stroke="#000" stroke-width="6.5"/>
<text transform="translate(926.0 643.7) scale(1 1.07)" text-anchor="end" class="t30">1</text>
<line x1="931.0" y1="493.6" x2="950.5" y2="493.6" stroke="#000" stroke-width="6.5"/>
<text transform="translate(926.0 504.1) scale(1 1.07)" text-anchor="end" class="t30">2</text>
<line x1="931.0" y1="354.0" x2="950.5" y2="354.0" stroke="#000" stroke-width="6.5"/>
<text transform="translate(926.0 364.5) scale(1 1.07)" text-anchor="end" class="t30">3</text>
<line x1="931.0" y1="214.4" x2="950.5" y2="214.4" stroke="#000" stroke-width="6.5"/>
<text transform="translate(926.0 224.9) scale(1 1.07)" text-anchor="end" class="t30">4</text>
<line x1="931.0" y1="74.8" x2="950.5" y2="74.8" stroke="#000" stroke-width="6.5"/>
<text transform="translate(926.0 85.3) scale(1 1.07)" text-anchor="end" class="t30">5</text>
<line x1="1037.8" y1="772.8" x2="1037.8" y2="792.4" stroke="#000" stroke-width="6.5"/>
<text transform="translate(1036.5 824.8) scale(1 1.05)" text-anchor="middle" class="t30x" xml:space="preserve">Red bean</text>
<line x1="1211.8" y1="772.8" x2="1211.8" y2="792.4" stroke="#000" stroke-width="6.5"/>
<text transform="translate(1210.7 824.8) scale(1 1.05)" text-anchor="middle" class="t30x" xml:space="preserve">Mung  bean</text>
<line x1="1386.0" y1="772.8" x2="1386.0" y2="792.4" stroke="#000" stroke-width="6.5"/>
<text transform="translate(1384.8 824.8) scale(1 1.05)" text-anchor="middle" class="t30x" xml:space="preserve">Red bean</text>
<line x1="1559.8" y1="772.8" x2="1559.8" y2="792.4" stroke="#000" stroke-width="6.5"/>
<text transform="translate(1558.7 824.8) scale(1 1.05)" text-anchor="middle" class="t30x" xml:space="preserve">Mung  bean</text>
<text transform="translate(886.3 423.8) rotate(-90)" text-anchor="middle" class="t36">LAI</text>
<text transform="translate(1117.0 30.3) scale(1 1.05)" text-anchor="middle" class="t33">July 24</text>
<text transform="translate(1461.0 30.3) scale(1 1.05)" text-anchor="middle" class="t33">August 11</text>
<circle cx="1473.2" cy="98.8" r="7" fill="#fe0000"/>
<circle cx="1473.2" cy="135.4" r="7" fill="#90bdf8"/>
<text x="1523.3" y="107.4" class="t24" textLength="88.5" lengthAdjust="spacingAndGlyphs">Red bean</text>
<text x="1523.3" y="143.9" class="t24" textLength="114.5" lengthAdjust="spacingAndGlyphs" xml:space="preserve">Mung  bean</text>
</g>
</svg>
</body>
</html>
